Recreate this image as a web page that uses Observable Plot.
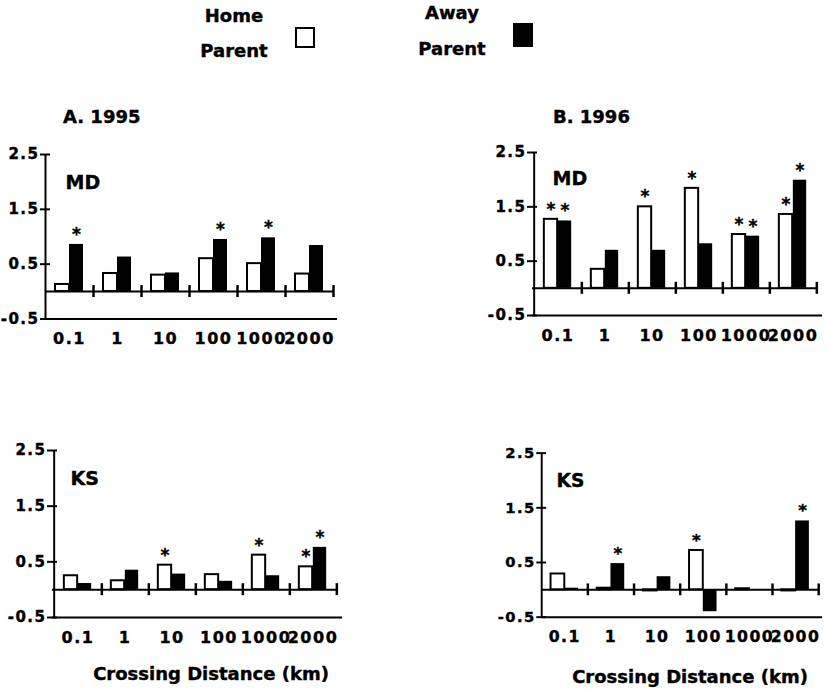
<!DOCTYPE html>
<html><head><meta charset="utf-8">
<script src="https://cdn.jsdelivr.net/npm/d3@7"></script>
<script src="https://cdn.jsdelivr.net/npm/@observablehq/plot@0.6"></script>
<style>
body{margin:0;background:#fff;}
#root{position:relative;width:830px;height:691px;font-family:"DejaVu Sans",sans-serif;font-weight:bold;color:#000;overflow:hidden;}
.t{position:absolute;white-space:nowrap;font-size:18px;line-height:1;-webkit-text-stroke:0.4px #000;}
.c{transform:translateX(-50%);}
.box{position:absolute;box-sizing:border-box;border:2px solid #000;}
.p{position:absolute;}
.p svg{overflow:visible;display:block;}
.p svg text{stroke:#000;stroke-width:0.4px;}
g[aria-label="x-axis tick label"]{letter-spacing:1.5px;}
g[aria-label="y-axis tick label"]{letter-spacing:1.5px;}
</style></head><body><div id="root"></div><script>
const groups = ["0.1","1","10","100","1000","2000"];
const yTicks = [-0.5, 0.5, 1.5, 2.5];

const md1995Home = [0.13, 0.33, 0.30, 0.60, 0.51, 0.32];
const md1995Away = [0.86, 0.63, 0.34, 0.95, 0.98, 0.84];
const md1995HomeSig = [false, false, false, false, false, false];
const md1995AwaySig = [true, false, false, true, true, false];

const md1996Home = [1.27, 0.35, 1.50, 1.84, 0.99, 1.36];
const md1996Away = [1.24, 0.70, 0.70, 0.82, 0.96, 1.99];
const md1996HomeSig = [true, false, true, true, true, true];
const md1996AwaySig = [true, false, false, false, true, true];

const ks1995Home = [0.25, 0.16, 0.44, 0.27, 0.62, 0.41];
const ks1995Away = [0.11, 0.35, 0.28, 0.15, 0.25, 0.76];
const ks1995HomeSig = [false, false, true, false, true, true];
const ks1995AwaySig = [false, false, false, false, false, true];

const ks1996Home = [0.29, 0.03, -0.02, 0.72, 0.02, -0.02];
const ks1996Away = [0.03, 0.48, 0.24, -0.40, -0.01, 1.26];
const ks1996HomeSig = [false, false, false, true, false, false];
const ks1996AwaySig = [false, true, false, false, false, true];

const root = document.getElementById("root");
function addText(txt, left, top, center) {
  const d = document.createElement("div");
  d.className = "t" + (center ? " c" : "");
  d.style.left = left + "px"; d.style.top = top + "px";
  d.textContent = txt; root.appendChild(d);
}
function addBox(left, top, w, h, fill) {
  const d = document.createElement("div");
  d.className = "box";
  Object.assign(d.style, {left: left+"px", top: top+"px", width: w+"px", height: h+"px", background: fill});
  root.appendChild(d);
}

// legend
addText("Home", 234, 7, true);
addText("Parent", 234, 42, true);
addBox(295, 27, 20, 21, "#fff");
addText("Away", 452, 4, true);
addText("Parent", 452, 40, true);
addBox(513, 23, 20, 24, "#000");

// panel titles
addText("A. 1995", 63, 108, false);
addText("B. 1996", 553, 108, false);
addText("Crossing Distance (km)", 211, 665, true);
addText("Crossing Distance (km)", 690, 668, true);

function panel({home, away, homeSig, awaySig, label, left, top, plotW, plotH, labelDx, labelDy}) {
  const mL = 45, mR = 12, mT = 20, mB = 40;
  const bw = plotW / groups.length;
  const barW = 14;
  const ppu = plotH / 3;
  const rows = groups.map((g, i) => ({g, home: home[i], away: away[i], hs: homeSig[i], as: awaySig[i]}));
  const plot = Plot.plot({
    width: mL + plotW + mR, height: mT + plotH + mB,
    marginLeft: mL, marginRight: mR, marginTop: mT, marginBottom: mB,
    style: {fontFamily: '"DejaVu Sans", sans-serif', fontWeight: "bold", color: "#000", background: "transparent", overflow: "visible"},
    x: {type: "band", domain: groups, padding: 0},
    y: {domain: [-0.5, 2.5]},
    marks: [
      Plot.barY(rows, {x: "g", y: "home", fill: "white", stroke: "black", strokeWidth: 2, insetLeft: bw/2 - barW, insetRight: bw/2}),
      Plot.barY(rows, {x: "g", y: "away", fill: "black", insetLeft: bw/2, insetRight: bw/2 - barW}),
      Plot.ruleY([0], {stroke: "black", strokeWidth: 2}),
      Plot.ruleY([-0.5], {stroke: "black", strokeWidth: 2, insetRight: -4}),
      Plot.ruleX([groups[0]], {x: d => d, dx: -bw/2, stroke: "black", strokeWidth: 2}),
      Plot.ruleX(groups, {x: d => d, dx: bw/2, y1: -6/ppu, y2: 6/ppu, stroke: "black", strokeWidth: 2.5}),
      Plot.axisY({ticks: yTicks, tickSize: 10, dx: 5, tickPadding: 1, tickFormat: d => String(d), fontSize: 15, strokeWidth: 2, label: null}),
      Plot.axisX({tickSize: 0, tickPadding: 14, fontSize: 16, label: null}),
      Plot.text(rows.filter(d => d.hs), {x: "g", y: "home", text: () => "*", dx: -barW/2, dy: -10, fontSize: 17, lineAnchor: "middle"}),
      Plot.text(rows.filter(d => d.as), {x: "g", y: "away", text: () => "*", dx: barW/2, dy: -10, fontSize: 17, lineAnchor: "middle"}),
      Plot.text([label], {text: d => d, frameAnchor: "top-left", dx: labelDx, dy: labelDy, fontSize: 19, textAnchor: "start", lineAnchor: "middle"})
    ]
  });
  const div = document.createElement("div");
  div.className = "p";
  div.style.left = (left - mL) + "px";
  div.style.top = (top - mT) + "px";
  div.appendChild(plot);
  root.appendChild(div);
}

panel({home: md1995Home, away: md1995Away, homeSig: md1995HomeSig, awaySig: md1995AwaySig, label: "MD", left: 45, top: 154, plotW: 288, plotH: 164.5, labelDx: 20, labelDy: 28});
panel({home: md1996Home, away: md1996Away, homeSig: md1996HomeSig, awaySig: md1996AwaySig, label: "MD", left: 532, top: 152, plotW: 286, plotH: 163, labelDx: 20, labelDy: 26});
panel({home: ks1995Home, away: ks1995Away, homeSig: ks1995HomeSig, awaySig: ks1995AwaySig, label: "KS", left: 52, top: 450, plotW: 286, plotH: 167, labelDx: 18, labelDy: 28});
panel({home: ks1996Home, away: ks1996Away, homeSig: ks1996HomeSig, awaySig: ks1996AwaySig, label: "KS", left: 542, top: 453, plotW: 282, plotH: 167, labelDx: 15, labelDy: 28});
</script></body></html>
